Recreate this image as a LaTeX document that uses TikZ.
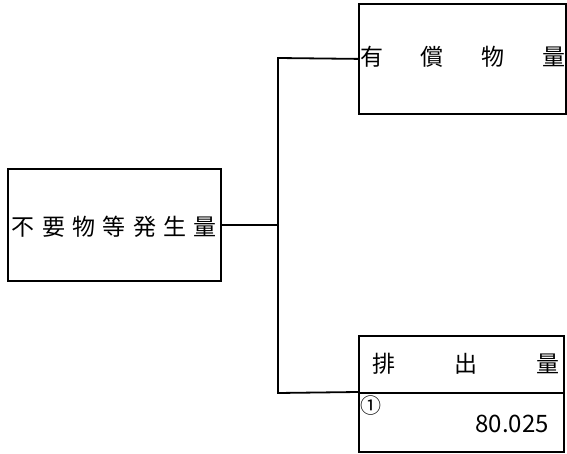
\documentclass[tikz,border=0pt]{standalone}
\usepackage{fontspec}
\newfontfamily\jfont{Noto Sans CJK JP}
\tikzset{box/.style={draw,line width=1.8pt,inner sep=0pt,anchor=north west},
line/.style={line width=1.8pt},
lab/.style={font=\jfont\fontsize{23}{24}\selectfont,inner sep=0pt}}

\begin{document}
\begin{tikzpicture}[x=1pt,y=-1pt]
\useasboundingbox (0,0) rectangle (567,454);
% boxes
\node[box,minimum width=213,minimum height=112] (gen) at (7,168) {};
\node[box,minimum width=207,minimum height=110] (paid) at (358,3) {};
\node[box,minimum width=205,minimum height=57] (out) at (358,335) {};
\node[box,minimum width=205,minimum height=59] (amt) at (358,392) {};
% texts
\node[lab,text width=205] (gentxt) at (114.5,227) {不\hfill 要\hfill 物\hfill 等\hfill 発\hfill 生\hfill 量};
\node[lab,text width=205] (paidtxt) at (462.5,57) {有\hfill 償\hfill 物\hfill 量};
\node[lab,text width=188] (outtxt) at (466,364) {排\hfill 出\hfill 量};
\node[font=\jfont\fontsize{21}{22}\selectfont,inner sep=0pt] (no) at (371,406) {①};
\node[font=\jfont\fontsize{24}{26}\selectfont,inner sep=0pt,anchor=east] (val) at (549,424) {80.025};
% connectors
\coordinate (jt) at (278,58);
\coordinate (jb) at (278,393);
\draw[line] (paid.west) -- (jt) -- (jb) -- (amt.north west);
\draw[line] (gen.east) -- (gen.east -| jt);
\end{tikzpicture}
\end{document}
